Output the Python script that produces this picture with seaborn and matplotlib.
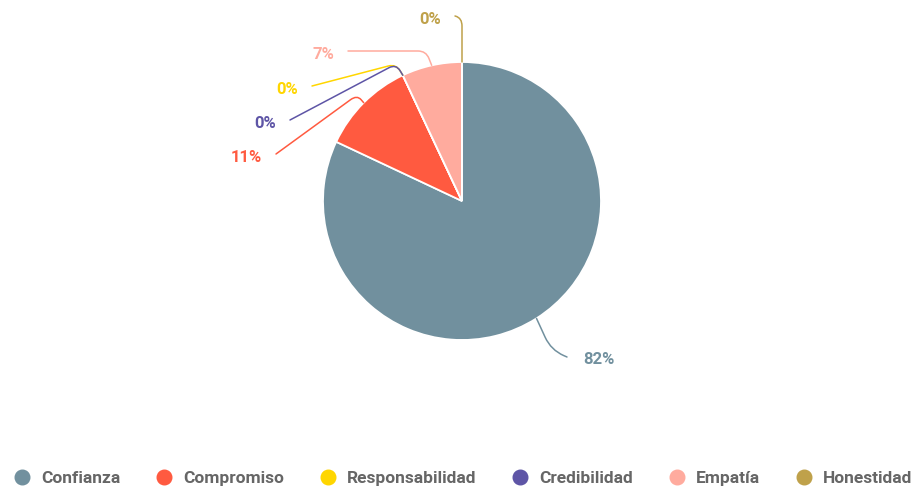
import numpy as np
import matplotlib
matplotlib.use("Agg")
import matplotlib.pyplot as plt
from matplotlib.path import Path
from matplotlib.patches import PathPatch
from matplotlib.lines import Line2D
import seaborn as sns

# Share of answers per value (percent)
categories = ["Confianza", "Compromiso", "Responsabilidad", "Credibilidad", "Empatía", "Honestidad"]
shares = [82, 11, 0, 0, 7, 0]
palette = ["#71909e", "#ff5a40", "#ffd600", "#5e55a6", "#ffab9e", "#bfa14a"]

sns.set_theme(style="white")
plt.rcParams["font.family"] = ["Roboto", "DejaVu Sans"]

W, H = 919, 491
fig = plt.figure(figsize=(W / 100, H / 100), dpi=100)
ax = fig.add_axes([0, 0, 1, 1])

# pixel-like coordinates, y measured from the top of the canvas
def P(x, y):
    return np.array([x, H - y], dtype=float)

center = P(462, 201)
R = 139
ax.pie(shares, colors=palette, startangle=90, counterclock=False,
       center=tuple(center), radius=R,
       wedgeprops=dict(edgecolor="white", linewidth=1.3))
ax.set_xlim(0, W)
ax.set_ylim(0, H)
ax.set_aspect("equal")
ax.axis("off")

# leader-line layout: elbow point, line end, label side, rounding radius
layout = {
    "Confianza":       (P(551, 350), P(567, 357), "left", 14),
    "Compromiso":      (P(357, 95),  P(276, 154), "right", 8),
    "Responsabilidad": (P(396, 64),  P(312, 86),  "right", 8),
    "Credibilidad":    (P(396, 64),  P(290, 120), "right", 8),
    "Empatía":         (P(426, 51),  P(348, 51),  "right", 8),
    "Honestidad":      (P(462, 18),  P(455, 16),  "right", 8),
}

total = float(sum(shares))
cum = 0.0
for name, val, col in zip(categories, shares, palette):
    mid = 90 - 360 * (cum + val / 2) / total
    cum += val
    th = np.deg2rad(mid)
    anchor = center + R * np.array([np.cos(th), np.sin(th)])
    elbow, end, side, rad = layout[name]
    v1 = elbow - anchor
    v2 = end - elbow
    r1 = min(rad, 0.6 * np.linalg.norm(v1))
    r2 = min(rad, 0.9 * np.linalg.norm(v2))
    a = elbow - v1 / np.linalg.norm(v1) * r1
    b = elbow + v2 / np.linalg.norm(v2) * r2
    path = Path([anchor, a, elbow, b, end],
                [Path.MOVETO, Path.LINETO, Path.CURVE3, Path.CURVE3, Path.LINETO])
    ax.add_patch(PathPatch(path, facecolor="none", edgecolor=col, lw=1.1,
                           capstyle="round", joinstyle="round"))
    if side == "left":
        tx, ha = end[0] + 16, "left"
    else:
        tx, ha = end[0] - 14, "right"
    ax.text(tx, end[1] - 3, f"{val:.0f}%", color=col, fontsize=12,
            fontweight="bold", ha=ha, va="center")

handles = [Line2D([0], [0], marker="o", linestyle="none", markersize=10.5,
                  markerfacecolor=c, markeredgecolor=c) for c in palette]
fig.legend(handles, categories, loc="center", ncol=6, frameon=False,
           bbox_to_anchor=(463 / W, 1 - 478 / H),
           handlelength=1.0, handletextpad=0.6, columnspacing=2.02,
           prop=dict(weight="bold", size=12.5), labelcolor="#666666")

fig.savefig("out.png", dpi=100, facecolor="white")
